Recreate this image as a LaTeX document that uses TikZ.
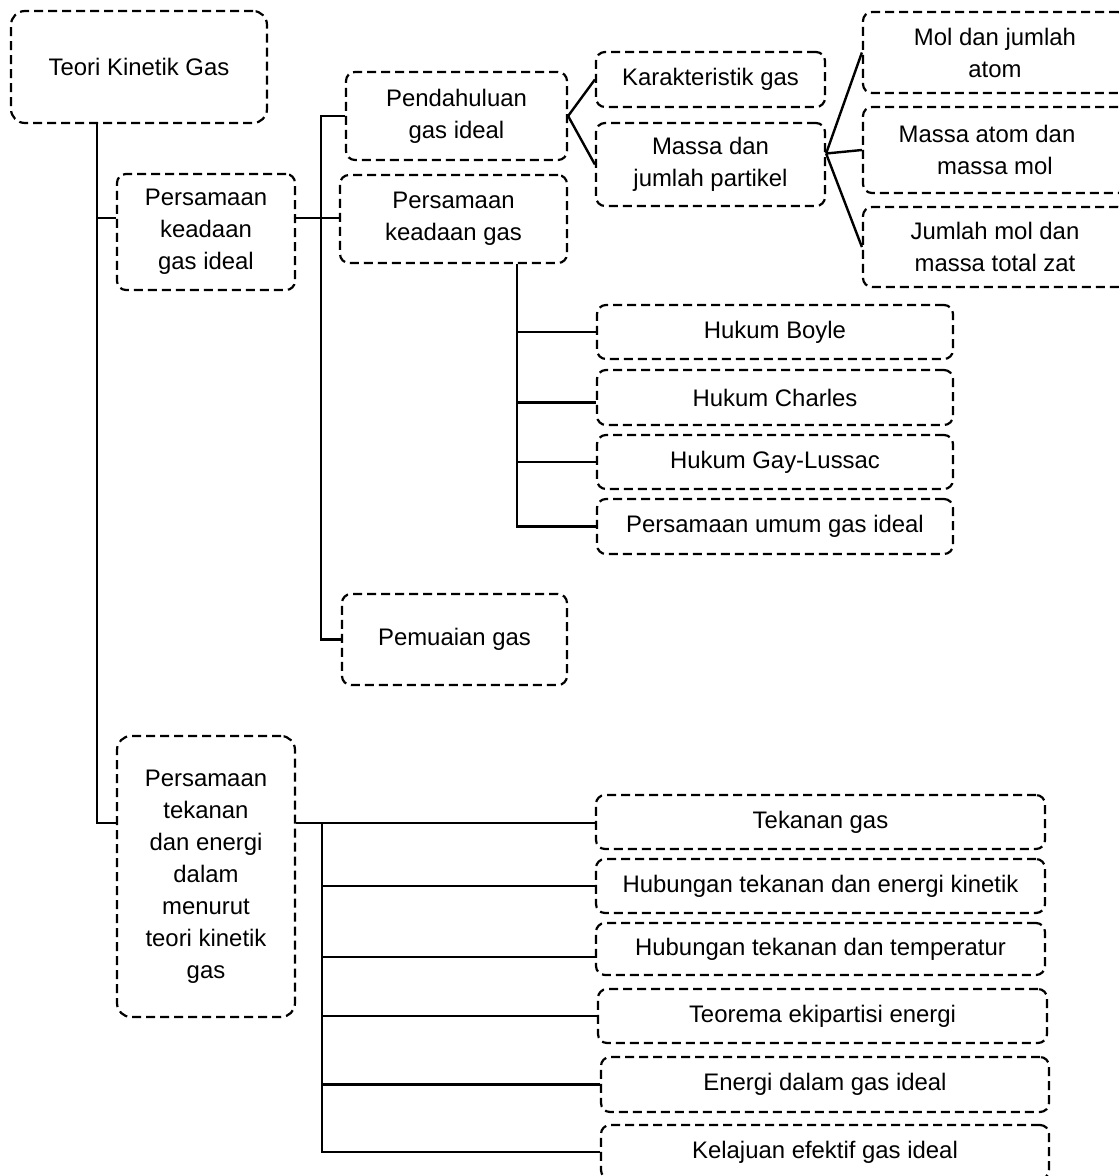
\documentclass[tikz,border=0pt]{standalone}
\usepackage{fontspec}
\setmainfont{Liberation Sans}
\begin{document}
\begin{tikzpicture}[x=1pt,y=-1pt,
  bx/.style={draw, line width=2.2pt, dash pattern=on 9pt off 5pt,
    rounded corners=9pt, inner sep=2pt, align=center,
    font=\fontsize{23.9}{32}\selectfont},
  link/.style={draw, line width=2.4pt}]
\useasboundingbox (0,0) rectangle (1119,1176);
\clip (0,0) rectangle (1119,1176);
\fill[white] (0,0) rectangle (1119,1176);

% column positions of the vertical connector lines
\coordinate (c1) at (97,0);
\coordinate (c2) at (321,0);
\coordinate (c3) at (517,0);
\coordinate (c4) at (322,0);

% root and first level
\node[bx, rounded corners=14pt, minimum width=256pt, minimum height=112pt] (root) at (139,67) {Teori Kinetik Gas};
\node[bx, minimum width=178pt, minimum height=116pt] (pkgi) at (206,232) {Persamaan\\keadaan\\gas ideal};
\node[bx, rounded corners=14pt, minimum width=178pt, minimum height=281pt] (ptek) at (206,876.5) {Persamaan\\tekanan\\dan energi\\dalam\\menurut\\teori kinetik\\gas};

% second level
\node[bx, minimum width=221pt, minimum height=88pt] (pend) at (456.5,116) {Pendahuluan\\gas ideal};
\node[bx, minimum width=227pt, minimum height=88pt] (pkg) at (453.5,219) {Persamaan\\keadaan gas};
\node[bx, minimum width=225pt, minimum height=91pt] (pem) at (454.5,639.5) {Pemuaian gas};

% introduction branch
\node[bx, minimum width=229pt, minimum height=55pt] (kar) at (710.5,79.5) {Karakteristik gas};
\node[bx, minimum width=229pt, minimum height=83pt] (mjp) at (710.5,164.5) {Massa dan\\jumlah partikel};
\node[bx, minimum width=264pt, minimum height=81pt] (mol) at (995,52.5) {Mol dan jumlah\\atom};
\node[bx, minimum width=264pt, minimum height=86pt] (mam) at (995,150) {Massa atom dan\hspace*{16pt}\\massa mol};
\node[bx, minimum width=264pt, minimum height=80pt] (jmt) at (995,247) {Jumlah mol dan\\massa total zat};

% gas laws
\node[bx, minimum width=356pt, minimum height=54pt] (boyle) at (775,332) {Hukum Boyle};
\node[bx, minimum width=356pt, minimum height=55pt] (charles) at (775,397.5) {Hukum Charles};
\node[bx, minimum width=356pt, minimum height=54pt] (gay) at (775,462) {Hukum Gay-Lussac};
\node[bx, minimum width=356pt, minimum height=55pt] (umum) at (775,526.5) {Persamaan umum gas ideal};

% pressure and energy branch
\node[bx, minimum width=449pt, minimum height=54pt] (tg) at (820.5,822) {Tekanan gas};
\node[bx, minimum width=449pt, minimum height=54pt] (hk) at (820.5,886) {Hubungan tekanan dan energi kinetik};
\node[bx, minimum width=449pt, minimum height=52pt] (ht) at (820.5,949) {Hubungan tekanan dan temperatur};
\node[bx, minimum width=449pt, minimum height=54pt] (te) at (822.5,1016) {Teorema ekipartisi energi};
\node[bx, minimum width=448pt, minimum height=55pt] (ed) at (825,1084.5) {Energi dalam gas ideal};
\node[bx, minimum width=448pt, minimum height=54pt] (ke) at (825,1152) {Kelajuan efektif gas ideal};

% connectors
\draw[link] (root.south -| c1) |- ([yshift=53.5]ptek.west);
\draw[link] ([yshift=14]pkgi.west) -- ([yshift=14]pkgi.west -| c1);
\draw[link] ([yshift=14]pkgi.east) -- ([yshift=14]pkgi.east -| pkg.west);
\draw[link] (pend.west) -- (pend.west -| c2) |- (pem.west);

\draw[link] (pend.east) -- (kar.west);
\draw[link] (pend.east) -- (mjp.west);
\coordinate (mjpR) at ([yshift=11]mjp.east);
\draw[link] (mjpR) -- (mol.west);
\draw[link] (mjpR) -- (mam.west);
\draw[link] (mjpR) -- (jmt.west);

\draw[link] (pkg.south -| c3) |- (umum.west);
\draw[link] (boyle.west -| c3) -- (boyle.west);
\draw[link] ([yshift=-5]charles.west -| c3) -- ([yshift=-5]charles.west);
\draw[link] (gay.west -| c3) -- (gay.west);

\draw[link] ([yshift=53.5]ptek.east) -- ([yshift=53.5]ptek.east -| tg.west);
\draw[link] (tg.west -| c4) |- (ke.west);
\draw[link] (hk.west -| c4) -- (hk.west);
\draw[link] ([yshift=-8]ht.west -| c4) -- ([yshift=-8]ht.west);
\draw[link] (te.west -| c4) -- (te.west);
\draw[link] (ed.west -| c4) -- (ed.west);
\end{tikzpicture}
\end{document}
